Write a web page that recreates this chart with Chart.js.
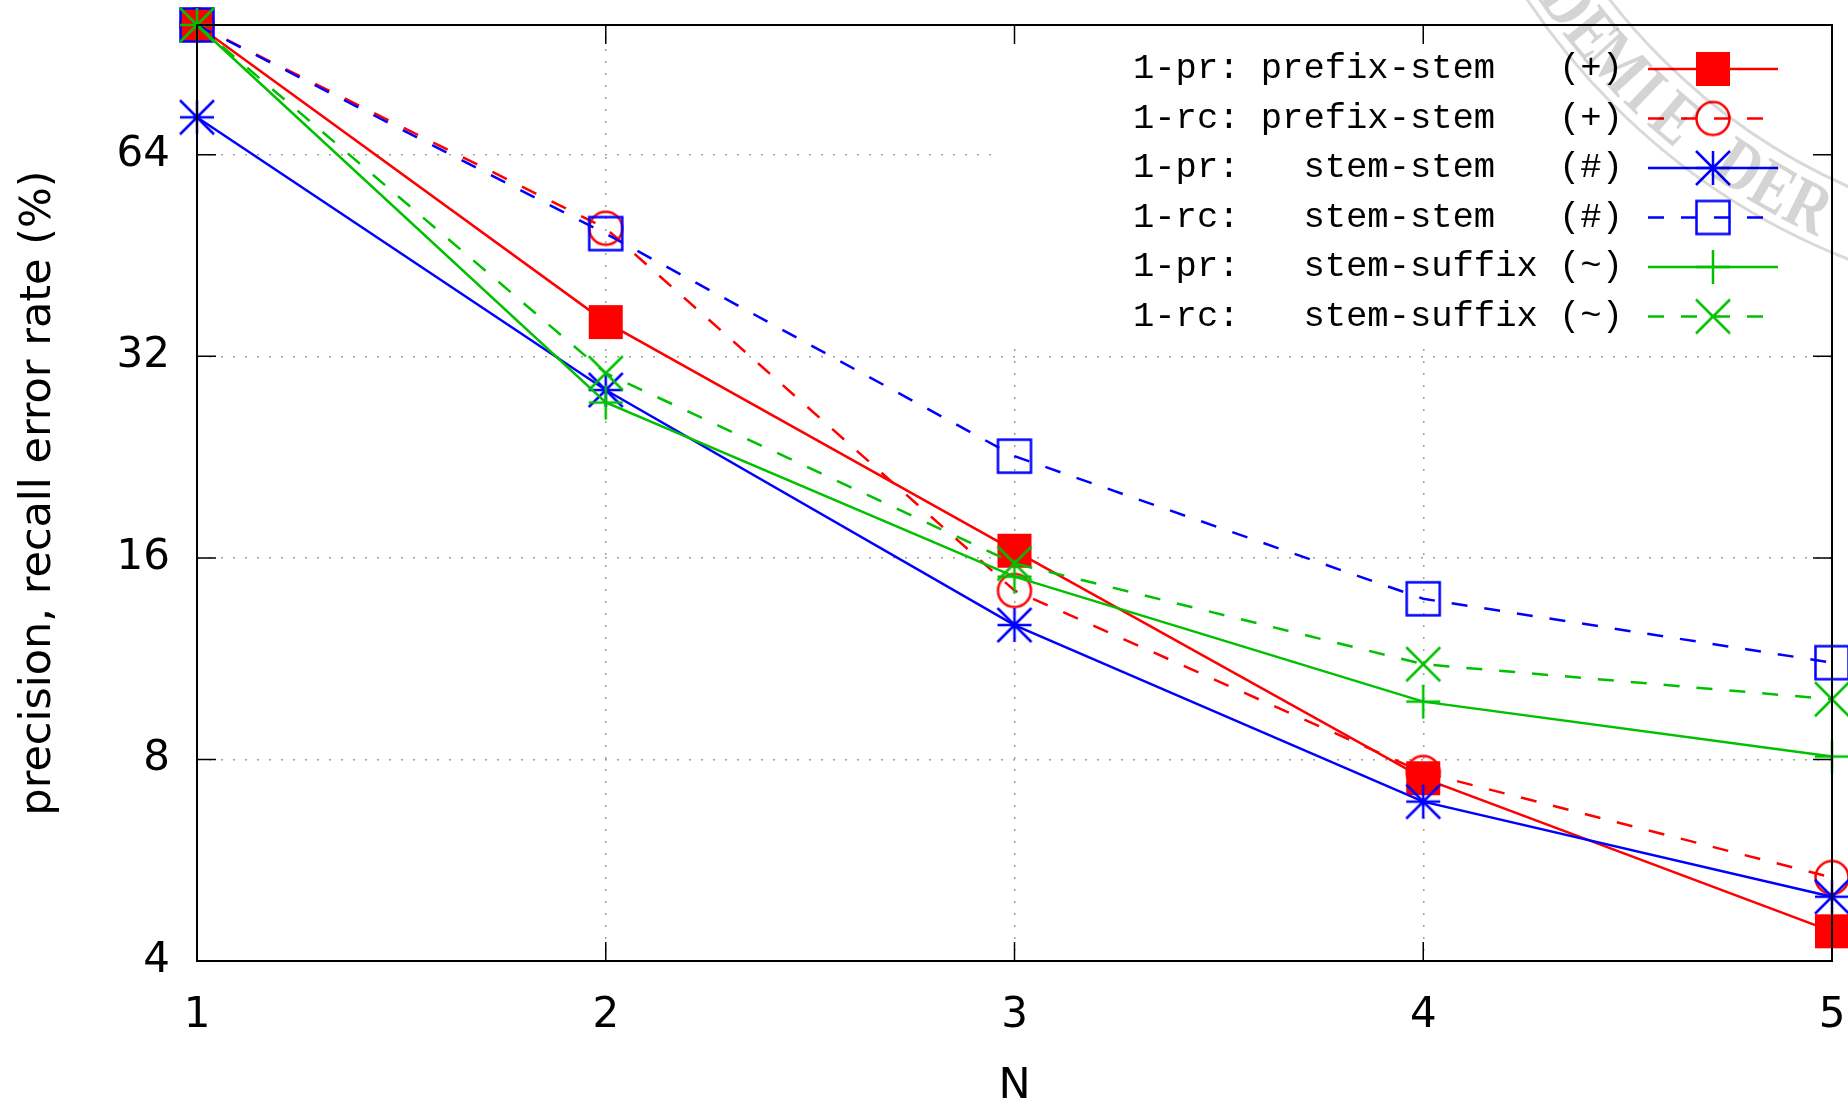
<!DOCTYPE html>
<html>
<head>
<meta charset="utf-8">
<title>precision, recall error rate</title>
<script src="https://cdn.jsdelivr.net/npm/chart.js@4.4.1/dist/chart.umd.min.js"></script>
<style>
  html, body { margin: 0; padding: 0; background: #fff; }
  canvas { display: block; }
</style>
</head>
<body>
<canvas id="lineChart" width="1848" height="1101"></canvas>
<script>
// Eje x: N, eje y: tasa de error en % (escala log2)
const nValues = [1, 2, 3, 4, 5];
const yTicks = [4, 8, 16, 32, 64];

// Valores
const prPrefixStem = [100, 36.0, 16.4, 7.5, 4.43];
const rcPrefixStem = [100, 49.7, 14.3, 7.65, 5.33];
const prStemStem   = [72.8, 28.5, 12.7, 6.92, 4.99];
const rcStemStem   = [100, 48.8, 22.7, 13.9, 11.16];
const prStemSuffix = [100, 27.3, 15.0, 9.76, 8.08];
const rcStemSuffix = [100, 30.2, 15.7, 11.1, 9.84];

const seriesLabels = [
  '1-pr: prefix-stem   (+)',
  '1-rc: prefix-stem   (+)',
  '1-pr:   stem-stem   (#)',
  '1-rc:   stem-stem   (#)',
  '1-pr:   stem-suffix (~)',
  '1-rc:   stem-suffix (~)'
];
const seriesColors = ['#ff0000', '#ff0000', '#0000ff', '#0000ff', '#00c000', '#00c000'];
const seriesMarkers = ['fsquare', 'circle', 'asterisk', 'osquare', 'plus', 'cross'];
const seriesDashed = [false, true, false, true, false, true];
const allSeries = [prPrefixStem, rcPrefixStem, prStemStem, rcStemStem, prStemSuffix, rcStemSuffix];

const DASH = [16, 17];
const tickFont = { family: 'DejaVu Sans', size: 42 };

// marcadores estilo gnuplot
function makeMarker(kind, color) {
  const c = document.createElement('canvas');
  c.width = 40; c.height = 40;
  const g = c.getContext('2d');
  const m = 20, h = 17;
  g.strokeStyle = color;
  g.fillStyle = color;
  g.lineWidth = 2.5;
  if (kind === 'fsquare') g.fillRect(m - h, m - h, 2 * h, 2 * h);
  if (kind === 'osquare') g.strokeRect(m - h + 0.5, m - h + 0.5, 2 * h - 1, 2 * h - 1);
  g.beginPath();
  if (kind === 'circle') g.arc(m, m, 16.5, 0, 2 * Math.PI);
  if (kind === 'plus' || kind === 'asterisk') {
    g.moveTo(m - h, m); g.lineTo(m + h, m);
    g.moveTo(m, m - h); g.lineTo(m, m + h);
  }
  if (kind === 'cross' || kind === 'asterisk') {
    g.moveTo(m - h, m - h); g.lineTo(m + h, m + h);
    g.moveTo(m + h, m - h); g.lineTo(m - h, m + h);
  }
  g.stroke();
  return c;
}
const markers = seriesMarkers.map((k, i) => makeMarker(k, seriesColors[i]));

const datasets = allSeries.map((values, i) => ({
  label: seriesLabels[i],
  data: nValues.map((n, j) => ({ x: n, y: values[j] })),
  borderColor: seriesColors[i],
  backgroundColor: seriesColors[i],
  borderWidth: 2.5,
  borderDash: seriesDashed[i] ? DASH : [],
  pointStyle: markers[i],
  pointRadius: 17,
  fill: false,
  tension: 0,
  clip: false,
  order: allSeries.length - 1 - i
}));

// caja de leyenda (opaca, como en gnuplot)
const legendBox = { left: 996, bottom: 340 };
const legendRows = [69, 118.5, 168, 217.5, 267, 316.5];

const gnuplotFrame = {
  id: 'gnuplotFrame',
  beforeDatasetsDraw(chart) {
    const { ctx, chartArea: a } = chart;
    ctx.save();
    ctx.fillStyle = '#ffffff';
    ctx.fillRect(legendBox.left, a.top + 1, a.right - legendBox.left - 1, legendBox.bottom - a.top);
    ctx.restore();
  },
  afterDatasetsDraw(chart) {
    const { ctx, chartArea: a, scales: { x, y } } = chart;
    ctx.save();
    ctx.strokeStyle = '#000';
    ctx.lineWidth = 2;
    ctx.strokeRect(a.left, a.top, a.right - a.left, a.bottom - a.top);
    ctx.lineWidth = 1.5;
    ctx.beginPath();
    yTicks.forEach(v => {
      const py = y.getPixelForValue(v);
      ctx.moveTo(a.left, py); ctx.lineTo(a.left + 19, py);
      ctx.moveTo(a.right, py); ctx.lineTo(a.right - 19, py);
    });
    nValues.forEach(v => {
      const px = x.getPixelForValue(v);
      ctx.moveTo(px, a.bottom); ctx.lineTo(px, a.bottom - 19);
      ctx.moveTo(px, a.top); ctx.lineTo(px, a.top + 19);
    });
    ctx.stroke();

    // leyenda
    ctx.font = '35.5px "Liberation Mono"';
    ctx.fillStyle = '#000';
    ctx.textBaseline = 'middle';
    ctx.textAlign = 'left';
    seriesLabels.forEach((label, i) => {
      const ry = legendRows[i];
      ctx.fillText(label, 1133, ry);
      ctx.strokeStyle = seriesColors[i];
      ctx.lineWidth = 2.5;
      ctx.setLineDash(seriesDashed[i] ? DASH : []);
      ctx.beginPath();
      ctx.moveTo(1648, ry); ctx.lineTo(1778, ry);
      ctx.stroke();
      ctx.setLineDash([]);
      ctx.drawImage(markers[i], 1713 - 20, ry - 20);
    });
    ctx.restore();
  },
  afterDraw(chart) {
    // sello de agua (tenue)
    const ctx = chart.ctx;
    const cx = 2100, cy = -380;
    ctx.save();
    ctx.strokeStyle = 'rgba(0,0,0,0.15)';
    ctx.lineWidth = 3;
    [687, 620].forEach(r => {
      ctx.beginPath();
      ctx.arc(cx, cy, r, 0, Math.PI);
      ctx.stroke();
    });
    ctx.fillStyle = 'rgba(0,0,0,0.17)';
    ctx.font = 'bold 72px "Liberation Serif"';
    ctx.textAlign = 'center';
    ctx.textBaseline = 'alphabetic';
    const r = 678;
    const step = 0.061;
    let theta = 2.52;
    for (const ch of 'DEMIE DER') {
      ctx.save();
      ctx.translate(cx + r * Math.cos(theta), cy + r * Math.sin(theta));
      ctx.rotate(theta - Math.PI / 2);
      ctx.scale(0.8, 1);
      ctx.fillText(ch, 0, 0);
      ctx.restore();
      theta -= step;
    }
    ctx.restore();
  }
};

const ctxLine = document.getElementById('lineChart').getContext('2d');
const lineChart = new Chart(ctxLine, {
  type: 'line',
  data: { datasets: datasets },
  options: {
    responsive: false,
    devicePixelRatio: 1,
    animation: false,
    layout: { autoPadding: false, padding: { left: 0, right: 16, top: 25, bottom: 0 } },
    plugins: {
      legend: { display: false },
      tooltip: { enabled: false }
    },
    scales: {
      x: {
        type: 'linear',
        min: 1,
        max: 5,
        afterBuildTicks: s => { s.ticks = nValues.map(v => ({ value: v })); },
        afterFit: s => { s.height = 140; s.paddingLeft = 0; s.paddingRight = 0; },
        ticks: { font: tickFont, color: '#000', padding: 30, maxRotation: 0, autoSkip: false },
        grid: { color: '#a0a0a0', lineWidth: 1.5, drawTicks: false, borderDash: [2, 10] },
        border: { display: false, dash: [2, 10] },
        title: {
          display: true,
          text: 'N',
          color: '#000',
          font: { family: 'DejaVu Sans', size: 43, lineHeight: 0.67 },
          padding: 0
        }
      },
      y: {
        type: 'logarithmic',
        min: 4,
        max: 100,
        afterBuildTicks: s => { s.ticks = yTicks.map(v => ({ value: v })); },
        afterFit: s => { s.width = 197; s.paddingTop = 0; s.paddingBottom = 0; },
        ticks: { font: tickFont, color: '#000', padding: 27, autoSkip: false, callback: v => String(v) },
        grid: { color: '#a0a0a0', lineWidth: 1.5, drawTicks: false, borderDash: [2, 10] },
        border: { display: false, dash: [2, 10] },
        title: {
          display: true,
          text: 'precision, recall error rate (%)',
          color: '#000',
          font: { family: 'DejaVu Sans', size: 43, lineHeight: 1 },
          padding: { top: 17, bottom: 0 }
        }
      }
    }
  },
  plugins: [gnuplotFrame]
});
</script>
</body>
</html>
